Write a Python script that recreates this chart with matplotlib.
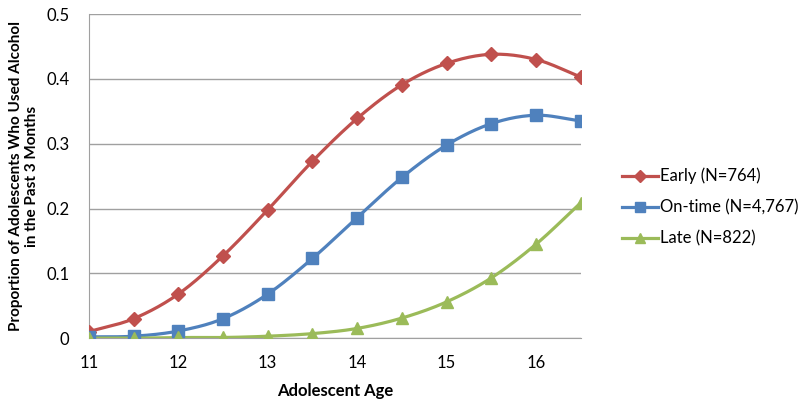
import numpy as np
import matplotlib.pyplot as plt

plt.rcParams['font.family'] = ['Lato', 'DejaVu Sans']

# Data
ages = [11, 11.5, 12, 12.5, 13, 13.5, 14, 14.5, 15, 15.5, 16, 16.5]
early = [0.010, 0.030, 0.068, 0.127, 0.198, 0.273, 0.339, 0.391, 0.424, 0.438, 0.430, 0.403]
ontime = [0.002, 0.003, 0.011, 0.030, 0.068, 0.123, 0.186, 0.248, 0.298, 0.331, 0.344, 0.335]
late = [0.000, 0.000, 0.001, 0.001, 0.003, 0.007, 0.015, 0.031, 0.056, 0.093, 0.145, 0.209]
labels = ["Early (N=764)", "On-time (N=4,767)", "Late (N=822)"]


def smooth(x, y, n=20):
    # Catmull-Rom spline through the points (like Excel's smoothed line)
    x = np.asarray(x, float)
    y = np.asarray(y, float)
    px = np.concatenate([[2 * x[0] - x[1]], x, [2 * x[-1] - x[-2]]])
    py = np.concatenate([[2 * y[0] - y[1]], y, [2 * y[-1] - y[-2]]])
    xs, ys = [], []
    t = np.linspace(0, 1, n, endpoint=False)
    for i in range(1, len(px) - 2):
        for p, out in ((px, xs), (py, ys)):
            p0, p1, p2, p3 = p[i - 1], p[i], p[i + 1], p[i + 2]
            out.extend(0.5 * (2 * p1 + (-p0 + p2) * t
                              + (2 * p0 - 5 * p1 + 4 * p2 - p3) * t ** 2
                              + (-p0 + 3 * p1 - 3 * p2 + p3) * t ** 3))
    xs.append(x[-1])
    ys.append(y[-1])
    return np.array(xs), np.array(ys)


fig = plt.figure(figsize=(8, 4.04), dpi=100)
ax = fig.add_axes([0.111, 0.163, 0.615, 0.802])

series = [(early, "#C0504D", "D", 7.5), (ontime, "#4F81BD", "s", 8.5), (late, "#9BBB59", "^", 9)]
for (vals, col, mk, ms), lab in zip(series, labels):
    sx, sy = smooth(ages, vals)
    ax.plot(sx, sy, color=col, linewidth=2.3, zorder=3)
    ax.plot(ages, vals, linestyle="none", marker=mk, markersize=ms, color=col, zorder=4)
    ax.plot([], [], color=col, linewidth=2.3, marker=mk, markersize=ms - 1.5, label=lab)

ax.set_xlim(11, 16.5)
ax.set_ylim(0, 0.5)
ax.set_xticks([11, 12, 13, 14, 15, 16])
ax.set_xticklabels(["11", "12", "13", "14", "15", "16"])
ax.set_yticks([0, 0.1, 0.2, 0.3, 0.4, 0.5])
ax.set_yticklabels(["0", "0.1", "0.2", "0.3", "0.4", "0.5"])
ax.tick_params(labelsize=12, length=0)
ax.tick_params(axis="x", pad=12)
ax.tick_params(axis="y", pad=14)
ax.grid(axis="y", color="#A0A0A0", linewidth=1)
ax.set_axisbelow(True)
for s in ["top", "right"]:
    ax.spines[s].set_visible(False)
ax.spines["left"].set_color("#A0A0A0")
ax.spines["bottom"].set_color("#A0A0A0")

ax.set_xlabel("Adolescent Age", fontsize=12, fontweight="bold", labelpad=9)
ax.set_ylabel("Proportion of Adolescents Who Used Alcohol\nin the Past 3 Months",
              fontsize=11, fontweight="bold", labelpad=5, linespacing=1.2)

ax.legend(loc="center left", bbox_to_anchor=(1.053, 0.404), frameon=False,
          fontsize=12, handlelength=2.15, labelspacing=0.9, handletextpad=0.15,
          borderpad=0.4)

plt.savefig("out.png", dpi=100)
